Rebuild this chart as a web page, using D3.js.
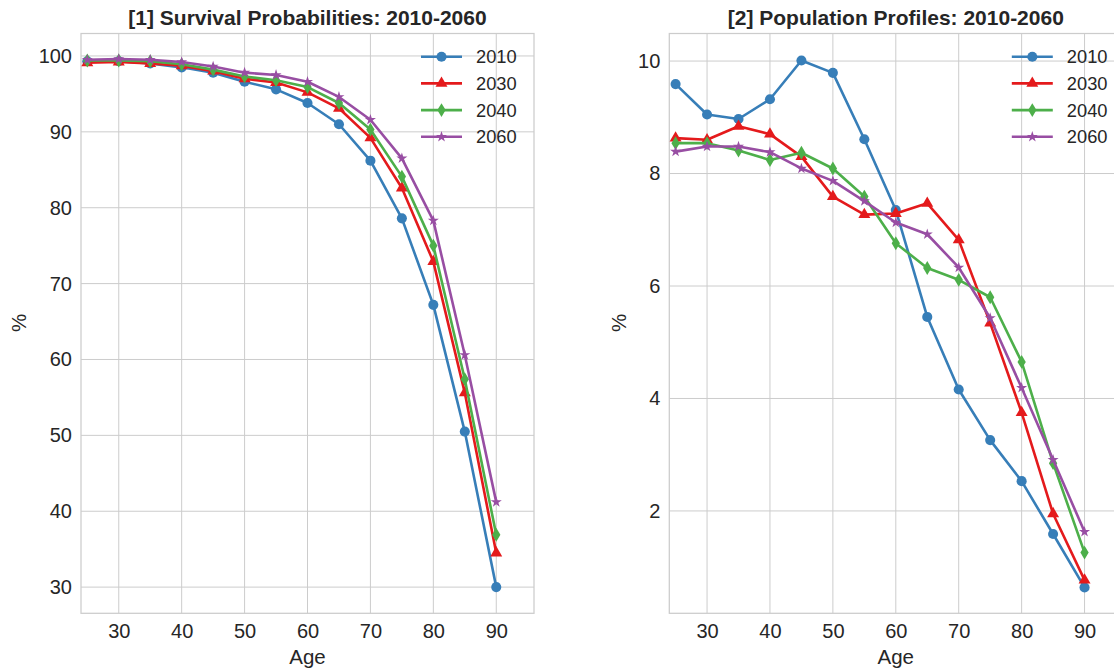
<!DOCTYPE html>
<html>
<head>
<meta charset="utf-8">
<script src="https://cdn.jsdelivr.net/npm/d3@7"></script>
<style>
  body { margin: 0; background: #fff; }
  svg text { font-family: "Liberation Sans", Arial, sans-serif; fill: #262626; }
</style>
</head>
<body>
<div id="vis"></div>
<script>
//ages on the x axis
var ages = [25, 30, 35, 40, 45, 50, 55, 60, 65, 70, 75, 80, 85, 90];
var years = ["2010", "2030", "2040", "2060"];

//survival probabilities (%)
var surv2010 = [99.3, 99.3, 99.0, 98.5, 97.8, 96.6, 95.6, 93.8, 91.0, 86.2, 78.6, 67.2, 50.5, 30.0];
var surv2030 = [99.1, 99.2, 99.0, 98.7, 98.0, 97.0, 96.5, 95.2, 93.1, 89.2, 82.6, 72.9, 55.6, 34.5];
var surv2040 = [99.4, 99.4, 99.3, 98.9, 98.2, 97.3, 96.8, 95.9, 93.8, 90.3, 84.1, 75.0, 57.4, 36.9];
var surv2060 = [99.5, 99.6, 99.5, 99.2, 98.6, 97.8, 97.5, 96.6, 94.6, 91.6, 86.5, 78.3, 60.6, 41.2];

//population profiles (%)
var pop2010 = [9.59, 9.05, 8.97, 9.32, 10.01, 9.79, 8.61, 7.35, 5.45, 4.16, 3.26, 2.53, 1.59, 0.64];
var pop2030 = [8.63, 8.60, 8.84, 8.70, 8.30, 7.59, 7.27, 7.29, 7.47, 6.82, 5.34, 3.75, 1.95, 0.77];
var pop2040 = [8.54, 8.54, 8.41, 8.24, 8.37, 8.09, 7.59, 6.76, 6.32, 6.11, 5.80, 4.65, 2.85, 1.26];
var pop2060 = [8.39, 8.48, 8.48, 8.38, 8.09, 7.87, 7.51, 7.13, 6.92, 6.33, 5.43, 4.19, 2.91, 1.63];

var xTicks = [30, 40, 50, 60, 70, 80, 90];
var survTicks = [30, 40, 50, 60, 70, 80, 90, 100];
var popTicks = [2, 4, 6, 8, 10];

var colors = d3.scaleOrdinal()
  .domain(years)
  .range(["#377eb8", "#e41a1c", "#4daf4a", "#984ea3"]);

//marker shapes
var thinDiamond = {
  draw: function(ctx, size) {
    var h = Math.sqrt(size) * 0.75, w = h * 0.6;
    ctx.moveTo(0, -h); ctx.lineTo(w, 0); ctx.lineTo(0, h); ctx.lineTo(-w, 0); ctx.closePath();
  }
};
var markers = {
  "2010": d3.symbol().type(d3.symbolCircle).size(80),
  "2030": d3.symbol().type(d3.symbolTriangle).size(62),
  "2040": d3.symbol().type(thinDiamond).size(85),
  "2060": d3.symbol().type(d3.symbolStar).size(38)
};

var W = 1114, H = 670;
var svg = d3.select("#vis").append("svg")
    .attr("width", W)
    .attr("height", H);

function panel(opt) {
  var x = d3.scaleLinear().domain([24, 96]).range([opt.left, opt.left + 453]);
  var y = d3.scaleLinear().domain(opt.yDomain).range([613.3, 33.5]);
  var g = svg.append("g");

  //grid
  g.append("g").selectAll("line").data(xTicks).enter().append("line")
    .attr("x1", function(d) { return x(d); }).attr("x2", function(d) { return x(d); })
    .attr("y1", 33.5).attr("y2", 613.3)
    .attr("stroke", "#cccccc").attr("stroke-width", 1);
  g.append("g").selectAll("line").data(opt.yTicks).enter().append("line")
    .attr("x1", x.range()[0]).attr("x2", x.range()[1])
    .attr("y1", function(d) { return y(d); }).attr("y2", function(d) { return y(d); })
    .attr("stroke", "#cccccc").attr("stroke-width", 1);

  //frame
  g.append("rect")
    .attr("x", x.range()[0]).attr("y", 33.5)
    .attr("width", 453).attr("height", 613.3 - 33.5)
    .attr("fill", "none").attr("stroke", "#cccccc").attr("stroke-width", 1.25);

  //axes (labels only, seaborn whitegrid has no tick marks)
  var xa = g.append("g")
    .attr("transform", "translate(0," + 613.3 + ")")
    .call(d3.axisBottom(x).tickValues(xTicks).tickSize(0).tickPadding(11));
  xa.select(".domain").remove();
  xa.selectAll("text").attr("font-size", 20).style("font-family", "Liberation Sans, Arial, sans-serif").attr("fill", "#262626");

  var ya = g.append("g")
    .attr("transform", "translate(" + x.range()[0] + ",0)")
    .call(d3.axisLeft(y).tickValues(opt.yTicks).tickSize(0).tickPadding(9));
  ya.select(".domain").remove();
  ya.selectAll("text").attr("font-size", 20).style("font-family", "Liberation Sans, Arial, sans-serif").attr("fill", "#262626");

  g.append("text")
    .attr("x", (x.range()[0] + x.range()[1]) / 2)
    .attr("y", 664)
    .attr("text-anchor", "middle")
    .attr("font-size", 20.5)
    .text("Age");

  g.append("text")
    .attr("transform", "translate(" + (x.range()[0] - opt.ylabOff) + "," + 323 + ") rotate(-90)")
    .attr("text-anchor", "middle")
    .attr("font-size", 20.5)
    .text("%");

  g.append("text")
    .attr("x", opt.left + 226.5)
    .attr("y", 25)
    .attr("text-anchor", "middle")
    .attr("font-size", 21)
    .attr("font-weight", "bold")
    .text(opt.title);

  //lines
  var line = d3.line()
    .x(function(d) { return x(d.age); })
    .y(function(d) { return y(d.v); });

  opt.series.forEach(function(vals, i) {
    var yr = years[i];
    var pts = ages.map(function(a, j) { return {age: a, v: vals[j]}; });
    g.append("path")
      .datum(pts)
      .attr("fill", "none")
      .attr("stroke", colors(yr))
      .attr("stroke-width", 2.6)
      .attr("stroke-linejoin", "round")
      .attr("d", line);
    g.append("g").selectAll("path").data(pts).enter().append("path")
      .attr("transform", function(d) { return "translate(" + x(d.age) + "," + y(d.v) + ")"; })
      .attr("d", markers[yr])
      .attr("fill", colors(yr));
  });

  //legend
  var legend = g.selectAll(".legend")
      .data(years)
    .enter().append("g")
      .attr("class", "legend")
      .attr("transform", function(d, i) {
        return "translate(" + (opt.left + opt.legX) + "," + (56.7 + i * 26.7) + ")";
      });
  legend.append("line")
    .attr("x1", 0).attr("x2", 41)
    .attr("stroke", function(d) { return colors(d); })
    .attr("stroke-width", 2.6);
  legend.append("path")
    .attr("transform", "translate(20.5,0)")
    .attr("d", function(d) { return markers[d](); })
    .attr("fill", function(d) { return colors(d); });
  legend.append("text")
    .attr("x", 55)
    .attr("y", 6.5)
    .attr("font-size", 18.3)
    .text(function(d) { return d; });
}

panel({
  left: 81,
  yDomain: [26.55, 102.96],
  yTicks: survTicks,
  series: [surv2010, surv2030, surv2040, surv2060],
  title: "[1] Survival Probabilities: 2010-2060",
  ylabOff: 55,
  legX: 340
});

panel({
  left: 669.3,
  yDomain: [0.18, 10.49],
  yTicks: popTicks,
  series: [pop2010, pop2030, pop2040, pop2060],
  title: "[2] Population Profiles: 2010-2060",
  ylabOff: 43,
  legX: 342.5
});
</script>
</body>
</html>
